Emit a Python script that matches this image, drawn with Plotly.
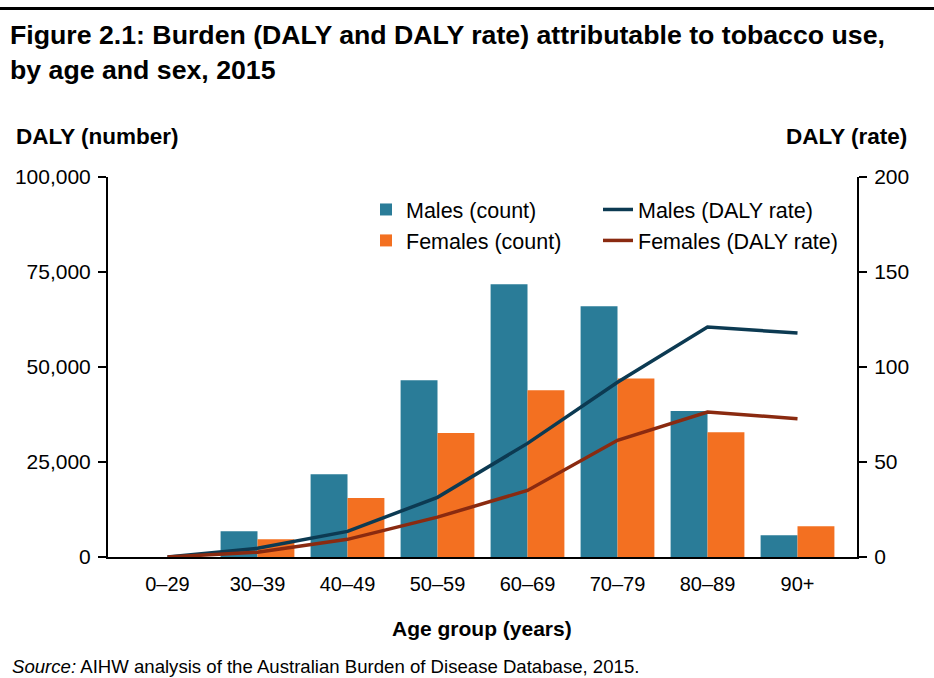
import plotly.graph_objects as go

# Data
age_groups = ['0–29', '30–39', '40–49', '50–59', '60–69', '70–79', '80–89', '90+']
males_count = [0, 6800, 21800, 46500, 71800, 66000, 38400, 5700]
females_count = [0, 4700, 15500, 32600, 43900, 47000, 32800, 8100]
males_rate = [0, 4.6, 13.5, 31.4, 59.8, 92, 121, 117.9]
females_rate = [0, 2.5, 9.3, 21, 35, 61.4, 76.3, 72.8]
left_ticks = [0, 25000, 50000, 75000, 100000]
right_ticks = [0, 50, 100, 150, 200]

FONT = 'Liberation Sans, Arial, sans-serif'
male_col = '#2a7c98'
female_col = '#f37021'
male_line = '#0c3a52'
female_line = '#8a2a10'

fig = go.Figure()

fig.add_trace(go.Bar(x=age_groups, y=males_count, name='Males (count)',
                     marker=dict(color=male_col, line=dict(width=0)), legend='legend'))
fig.add_trace(go.Bar(x=age_groups, y=females_count, name='Females (count)',
                     marker=dict(color=female_col, line=dict(width=0)), legend='legend'))
fig.add_trace(go.Scatter(x=age_groups, y=males_rate, name='Males (DALY rate)', mode='lines',
                         line=dict(color=male_line, width=3.5), yaxis='y2', legend='legend2'))
fig.add_trace(go.Scatter(x=age_groups, y=females_rate, name='Females (DALY rate)', mode='lines',
                         line=dict(color=female_line, width=3.5), yaxis='y2', legend='legend2'))

# plot area in pixels: x 108-857, y 177-557
W, H = 934, 678
L, R, T, B = 108, 857, 177, 557

def px_x(p):
    return (p - L) / (R - L)

def px_y(p):
    return (B - p) / (B - T)

fig.update_layout(
    width=W, height=H,
    margin=dict(l=L, r=W - R, t=T, b=H - B),
    paper_bgcolor='white', plot_bgcolor='white',
    font=dict(family=FONT, size=20, color='#000000'),
    barmode='group', bargap=0.18, bargroupgap=0,
    title=dict(text='<b>Figure 2.1: Burden (DALY and DALY rate) attributable to tobacco use,<br>by age and sex, 2015</b>',
               font=dict(size=26.7, family=FONT, color='#000000'),
               xref='container', x=10 / W, xanchor='left',
               yref='container', y=1 - 44 / H, yanchor='top'),
    xaxis=dict(range=[-0.661, 7.661], showline=True, linecolor='black', linewidth=2,
               ticks='', showgrid=False, tickfont=dict(size=20), ticklabelstandoff=8),
    yaxis=dict(range=[0, 100000], tickvals=left_ticks, tickformat=',', showline=True,
               linecolor='black', linewidth=2, ticks='outside', ticklen=8, tickwidth=2,
               tickcolor='black', showgrid=False, zeroline=False, tickfont=dict(size=21),
               ticklabelstandoff=3),
    yaxis2=dict(range=[0, 200], tickvals=right_ticks, overlaying='y', side='right',
                showline=True, linecolor='black', linewidth=2, ticks='outside', ticklen=8,
                tickwidth=2, tickcolor='black', showgrid=False, zeroline=False,
                tickfont=dict(size=21), ticklabelstandoff=3),
    legend=dict(x=px_x(366), y=px_y(189), xanchor='left', yanchor='top',
                bgcolor='rgba(0,0,0,0)', font=dict(size=21.5), tracegroupgap=0),
    legend2=dict(x=px_x(598), y=px_y(189), xanchor='left', yanchor='top',
                 bgcolor='rgba(0,0,0,0)', font=dict(size=21.5), tracegroupgap=0),
    shapes=[dict(type='line', xref='paper', yref='paper', x0=px_x(-5), x1=px_x(W + 5),
                 y0=px_y(8.5), y1=px_y(8.5), line=dict(color='black', width=3))],
    annotations=[
        dict(text='<b>DALY (number)</b>', xref='paper', yref='paper', x=px_x(14), y=px_y(137),
             xanchor='left', yanchor='middle', showarrow=False, font=dict(size=22.5)),
        dict(text='<b>DALY (rate)</b>', xref='paper', yref='paper', x=px_x(909), y=px_y(137),
             xanchor='right', yanchor='middle', showarrow=False, font=dict(size=22.5)),
        dict(text='<b>Age group (years)</b>', xref='paper', yref='paper', x=px_x(482), y=px_y(628),
             xanchor='center', yanchor='middle', showarrow=False, font=dict(size=21)),
        dict(text='<i>Source:</i> AIHW analysis of the Australian Burden of Disease Database, 2015.',
             xref='paper', yref='paper', x=px_x(10), y=px_y(666), xanchor='left', yanchor='middle',
             showarrow=False, font=dict(size=18.6)),
    ],
)

# drop the default page margin so the figure fills the window
fig.write_html('out.html', config={'displayModeBar': False},
               post_script="document.body.style.margin='0';")
